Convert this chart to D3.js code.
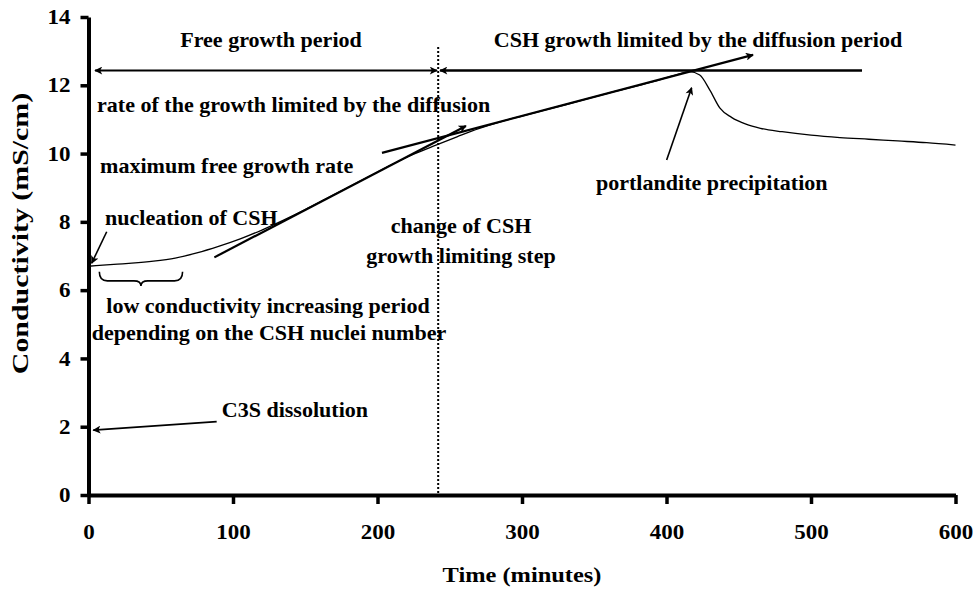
<!DOCTYPE html>
<html>
<head>
<meta charset="utf-8">
<script src="https://cdn.jsdelivr.net/npm/d3@7"></script>
<style>
  html, body { margin: 0; padding: 0; background: #fff; }
  svg text { font-family: "Liberation Serif", "Times New Roman", serif; font-weight: bold; fill: #000; }
</style>
</head>
<body>
<svg id="chart" width="978" height="590"></svg>
<script>
// ---- data ----
const timeMin = [0, 10, 20, 30, 45, 60, 75, 90, 105, 120, 135, 150, 165, 180, 195, 210, 225, 240, 255, 270, 285, 300, 330, 360, 390, 405, 416, 423, 430, 437, 445, 455, 465, 480, 500, 520, 540, 560, 580, 600];
const conductivity = [6.70, 6.73, 6.76, 6.79, 6.85, 6.94, 7.09, 7.28, 7.50, 7.76, 8.05, 8.36, 8.69, 9.02, 9.35, 9.68, 9.98, 10.24, 10.49, 10.73, 10.93, 11.10, 11.43, 11.77, 12.10, 12.28, 12.40, 12.30, 11.86, 11.33, 11.06, 10.86, 10.74, 10.64, 10.54, 10.47, 10.42, 10.37, 10.32, 10.25];
const xTicks = [0, 100, 200, 300, 400, 500, 600];
const yTicks = [0, 2, 4, 6, 8, 10, 12, 14];
const xTitle = "Time (minutes)";
const yTitle = "Conductivity (mS/cm)";
const changeTime = 242;            // vertical dotted line
const periodLevel = 12.43;         // horizontal period arrows
const freeTangent = [[87.1, 6.96], [261.2, 10.81]];
const diffTangent = [[203.1, 10.02], [459.9, 12.89]];
// annotation texts: [text, x, y, anchor]
const labels = [
  ["Free growth period", 126.3, 13.12, "middle"],
  ["CSH growth limited by the diffusion period", 421.8, 13.12, "middle"],
  ["rate of the growth limited by the diffusion", 5.9, 11.23, "start"],
  ["maximum free growth rate", 8.0, 9.43, "start"],
  ["nucleation of CSH", 11.4, 7.91, "start"],
  ["change of CSH", 257.8, 7.67, "middle"],
  ["growth limiting step", 257.8, 6.79, "middle"],
  ["low conductivity increasing period", 124.2, 5.32, "middle"],
  ["depending on the CSH nuclei number", 124.9, 4.54, "middle"],
  ["C3S dissolution", 92.2, 2.29, "start"],
  ["portlandite precipitation", 351.2, 8.93, "start"]
];
// pointer arrows: from -> to (arrowhead at "to")
const pointers = [
  [[12.6, 7.71], [2.2, 6.79]],
  [[88.7, 2.15], [3.3, 1.90]],
  [[400.1, 9.81], [417.4, 11.93]]
];

// ---- chart ----
const svg = d3.select("#chart");
const x = d3.scaleLinear().domain([0, 600]).range([88.5, 955.5]);
const y = d3.scaleLinear().domain([0, 14]).range([495, 17]);

const defs = svg.append("defs");
defs.append("marker").attr("id", "ah").attr("viewBox", "0 0 10 10")
  .attr("refX", 9).attr("refY", 5).attr("markerWidth", 12).attr("markerHeight", 8)
  .attr("markerUnits", "userSpaceOnUse").attr("orient", "auto-start-reverse")
  .append("path").attr("d", "M0,0 L10,5 L0,10 L2.5,5 Z").attr("fill", "#000");

// stretched text helper
function stretch(sel, sx) {
  sel.each(function () {
    const t = d3.select(this);
    const tx = +t.attr("x") || 0, ty = +t.attr("y") || 0;
    t.attr("x", 0).attr("y", 0).attr("transform", `translate(${tx},${ty}) scale(${sx},1)`);
  });
}

// axes
const xAxis = svg.append("g").attr("transform", `translate(0,${y(0)})`)
  .call(d3.axisBottom(x).tickValues(xTicks).tickSize(9).tickSizeOuter(0).tickPadding(22).tickFormat(d3.format("d")));
const yAxis = svg.append("g").attr("transform", `translate(${x(0)},0)`)
  .call(d3.axisLeft(y).tickValues(yTicks).tickSize(8).tickSizeOuter(0).tickPadding(10).tickFormat(d3.format("d")));
[xAxis, yAxis].forEach(g => {
  g.select(".domain").attr("stroke", "#000").attr("stroke-width", 4);
  g.selectAll(".tick line").attr("stroke", "#000").attr("stroke-width", 3.5);
  g.selectAll(".tick text").attr("font-size", 20).style("font-family", "Liberation Serif, serif").style("font-weight", "bold");
});
yAxis.selectAll(".tick text").attr("dy", "0.33em");
xAxis.selectAll(".tick text").attr("dy", "0.66em");
stretch(xAxis.selectAll(".tick text"), 1.15);
stretch(yAxis.selectAll(".tick text"), 1.15);

svg.append("text").attr("x", (x(0) + x(600)) / 2).attr("y", 582)
  .attr("text-anchor", "middle").attr("font-size", 22).text(xTitle)
  .call(s => stretch(s, 1.11));
svg.append("text").attr("transform", `translate(28,${y(7.66)}) rotate(-90) scale(1.3,1)`)
  .attr("text-anchor", "middle").attr("font-size", 23).text(yTitle);

// dotted change line
svg.append("line").attr("x1", x(changeTime)).attr("x2", x(changeTime))
  .attr("y1", y(13.12)).attr("y2", y(0))
  .attr("stroke", "#000").attr("stroke-width", 2).attr("stroke-dasharray", "2,2");

// period arrows
svg.append("line").attr("x1", x(241.2)).attr("x2", x(4.5))
  .attr("y1", y(periodLevel)).attr("y2", y(periodLevel))
  .attr("stroke", "#000").attr("stroke-width", 2)
  .attr("marker-start", "url(#ah)").attr("marker-end", "url(#ah)");
svg.append("line").attr("x1", x(535.3)).attr("x2", x(243.3))
  .attr("y1", y(periodLevel)).attr("y2", y(periodLevel))
  .attr("stroke", "#000").attr("stroke-width", 2.5)
  .attr("marker-end", "url(#ah)");

// tangents
[freeTangent, diffTangent].forEach(t => {
  svg.append("line").attr("x1", x(t[0][0])).attr("y1", y(t[0][1]))
    .attr("x2", x(t[1][0])).attr("y2", y(t[1][1]))
    .attr("stroke", "#000").attr("stroke-width", 2.2).attr("marker-end", "url(#ah)");
});

// conductivity curve
const line = d3.line().x((d, i) => x(timeMin[i])).y(d => y(d)).curve(d3.curveMonotoneX);
svg.append("path").datum(conductivity).attr("d", line)
  .attr("fill", "none").attr("stroke", "#000").attr("stroke-width", 1.3);

// pointers
pointers.forEach(p => {
  svg.append("line").attr("x1", x(p[0][0])).attr("y1", y(p[0][1]))
    .attr("x2", x(p[1][0])).attr("y2", y(p[1][1]))
    .attr("stroke", "#000").attr("stroke-width", 1.6).attr("marker-end", "url(#ah)");
});

// brace
const bx0 = x(7.5), bx1 = x(65.1), bxm = (bx0 + bx1) / 2, bt = y(6.54), bb = y(6.12);
const bm = (bt + bb) / 2 + 2;
svg.append("path")
  .attr("d", `M${bx0},${bt} Q${bx0},${bm} ${bx0 + 8},${bm} L${bxm - 7},${bm} Q${bxm},${bm} ${bxm},${bb} Q${bxm},${bm} ${bxm + 7},${bm} L${bx1 - 8},${bm} Q${bx1},${bm} ${bx1},${bt}`)
  .attr("fill", "none").attr("stroke", "#000").attr("stroke-width", 1.6);

// labels
svg.selectAll("text.ann").data(labels).join("text").attr("class", "ann")
  .attr("x", d => x(d[1])).attr("y", d => y(d[2]))
  .attr("text-anchor", d => d[3]).attr("font-size", 21).text(d => d[0])
  .call(s => stretch(s, 1.05));
</script>
</body>
</html>
